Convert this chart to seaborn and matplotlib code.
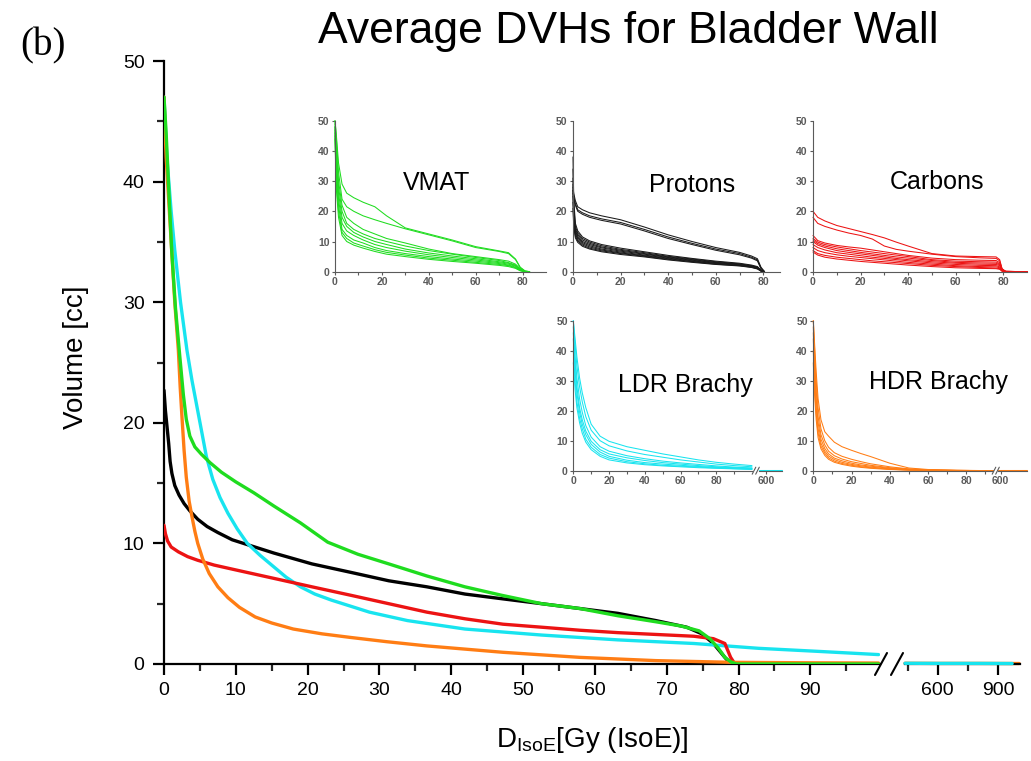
import numpy as np
import pandas as pd
import matplotlib
matplotlib.use("Agg")
import matplotlib.pyplot as plt
from matplotlib.lines import Line2D
from matplotlib.ticker import MultipleLocator, FixedLocator
import seaborn as sns

# ---------------- mean DVH curves (dose in Gy(IsoE), volume in cc) ----------------
vmat_dose = [0, 0.3, 0.65, 1.07, 1.6, 2.2, 2.7, 3.1, 3.6, 4.3, 5.2, 6.4, 8.0, 10, 12.5,
             15.3, 19, 22.8, 27, 31.3, 36.6, 41.9, 47, 52.6, 57.9, 63.2, 68.5, 72, 74.5,
             76.0, 77.2, 78.1, 79.0, 79.7, 82, 99.5]
vmat_vol = [47, 44, 39.5, 34.3, 29.5, 25.5, 22.3, 20.3, 18.9, 18.0, 17.4, 16.7, 15.9, 15.1,
            14.2, 13.1, 11.7, 10.1, 9.1, 8.3, 7.3, 6.4, 5.7, 5.0, 4.6, 4.0, 3.5, 3.15, 2.75,
            2.1, 1.3, 0.55, 0.15, 0, 0, 0]

proton_dose = [0, 0.2, 0.45, 0.65, 0.85, 1.1, 1.5, 2.1, 2.8, 3.6, 4.7, 6.0, 7.5, 9.5, 11.6,
               15.3, 20.6, 26, 31.3, 36.6, 41.9, 47.2, 52.6, 57.9, 63.2, 68.5, 72.8, 74.9,
               76.5, 78.1, 78.9, 82, 99.5]
proton_vol = [22.7, 21, 19.5, 18.3, 16.8, 15.8, 14.8, 14.0, 13.3, 12.7, 12.0, 11.4, 10.9,
              10.3, 9.9, 9.2, 8.3, 7.6, 6.9, 6.4, 5.8, 5.4, 5.0, 4.6, 4.2, 3.6, 3.05, 2.5,
              1.7, 0.55, 0, 0, 0]

carbon_dose = [0, 0.2, 0.5, 1.0, 2.0, 3.3, 4.7, 7, 10, 15.3, 20.6, 26, 31.3, 36.6, 41.9,
               47.2, 52.6, 57.9, 63.2, 68.5, 73.8, 76.5, 78.1, 78.9, 79.5, 82, 99.5]
carbon_vol = [11.5, 10.8, 10.2, 9.7, 9.3, 8.9, 8.6, 8.2, 7.8, 7.1, 6.4, 5.7, 5.0, 4.3, 3.75,
              3.3, 3.05, 2.8, 2.6, 2.45, 2.3, 2.1, 1.7, 0.55, 0, 0, 0]

ldr_dose = [0, 0.4, 1.0, 1.5, 2.3, 3.2, 3.9, 4.6, 5.3, 5.9, 6.8, 7.8, 8.9, 10.2, 11.6, 13.4,
            15.3, 17, 19, 21, 23.3, 28.6, 33.9, 41.9, 52.6, 63.2, 73.8, 82.8, 91, 99.5]
ldr_vol = [47, 42, 37.5, 34.3, 30, 26, 23.5, 21.3, 19.1, 17.2, 15.3, 13.8, 12.5, 11.2, 10.0,
           9.0, 8.05, 7.2, 6.4, 5.8, 5.3, 4.3, 3.6, 2.9, 2.4, 2.0, 1.7, 1.3, 1.05, 0.78]
ldr_tail_dose = [437, 600, 800, 970]
ldr_tail_vol = [0.06, 0.05, 0.05, 0.04]

hdr_dose = [0, 0.3, 0.7, 1.07, 1.5, 2.0, 2.25, 2.5, 2.8, 3.1, 3.5, 3.9, 4.3, 4.7, 5.4, 6.3,
            7.5, 8.9, 10.5, 12.7, 15, 18, 22, 26, 31, 36.6, 47.2, 57.9, 68.5, 79, 90, 99.5]
hdr_vol = [47, 42, 38, 34.3, 30, 26, 23, 20.5, 17.7, 15.5, 13.5, 12.2, 11.0, 10.0, 8.7, 7.5,
           6.4, 5.5, 4.7, 3.9, 3.4, 2.9, 2.5, 2.2, 1.85, 1.5, 0.97, 0.55, 0.28, 0.14, 0.1,
           0.08]
hdr_tail_dose = [437, 600, 800, 1005]
hdr_tail_vol = [0.06, 0.05, 0.05, 0.04]

# ---------------- individual patient DVHs ----------------
vmat_pt_dose = [0, 0.5, 1.5, 3, 5, 8, 12, 17, 22, 30, 40, 50, 60, 70, 74, 77, 79, 81, 83]
vmat_pt_vols = [
    [50, 46, 36, 29, 26, 24.5, 23, 21.5, 18.5, 14.5, 12.5, 10.5, 8.3, 6.9, 6.3, 4.2, 1.5, 0.3, 0],
    [50, 45, 33, 24, 21.5, 20, 18.5, 17.2, 16, 14.2, 12.2, 10.2, 8.0, 6.7, 6.0, 4.0, 1.3, 0.2, 0],
    [49, 42, 30, 22, 18, 16, 14, 12.5, 11, 9.5, 7.5, 6, 5, 4, 3.5, 2.5, 1, 0.1, 0],
    [48, 40, 28, 20, 16, 14, 12.5, 11, 10, 8.5, 7, 5.8, 4.7, 3.7, 3, 2.2, 0.8, 0, 0],
    [48, 38, 26, 18, 15, 13, 11.5, 10, 9, 7.5, 6.2, 5.2, 4.3, 3.3, 2.8, 2, 0.7, 0, 0],
    [47, 36, 24, 16, 13.5, 12, 10.5, 9, 8, 6.8, 5.6, 4.7, 3.9, 3, 2.5, 1.8, 0.6, 0, 0],
    [46, 33, 22, 14, 12, 10.5, 9.5, 8, 7, 6, 5, 4.2, 3.5, 2.7, 2.2, 1.5, 0.5, 0, 0],
    [45, 30, 20, 13, 11, 9.5, 8.5, 7.3, 6.4, 5.5, 4.5, 3.8, 3.1, 2.4, 2, 1.3, 0.4, 0, 0],
    [44, 28, 18, 12, 10, 8.8, 7.8, 6.7, 5.8, 5, 4.1, 3.4, 2.8, 2.1, 1.7, 1.1, 0.3, 0, 0],
]

proton_pt_dose = [0, 0.3, 1, 2, 4, 7, 12, 20, 30, 40, 50, 60, 70, 75, 77.5, 79, 80.5]
proton_pt_vols = [
    [28, 26, 23.5, 21.5, 20.5, 19.5, 18.5, 17.2, 14.8, 12.2, 10, 8.0, 6.4, 5.2, 4.3, 1.5, 0],
    [27, 25, 22.5, 20.5, 19.5, 18.5, 17.5, 16.3, 14.0, 11.5, 9.4, 7.5, 6.0, 4.8, 3.9, 1.2, 0],
    [26, 24, 22, 20, 19, 18, 17.0, 15.8, 13.5, 11.0, 9.0, 7.1, 5.6, 4.5, 3.6, 1.0, 0],
    [38, 24, 16, 13.5, 11.5, 10.2, 9.0, 7.8, 6.6, 5.4, 4.4, 3.5, 2.8, 2.2, 1.7, 0.5, 0],
    [34, 22, 15, 12.8, 11.0, 9.8, 8.6, 7.4, 6.3, 5.1, 4.2, 3.3, 2.6, 2.0, 1.5, 0.4, 0],
    [31, 20, 14.2, 12.2, 10.5, 9.4, 8.2, 7.1, 6.0, 4.9, 4.0, 3.1, 2.5, 1.9, 1.4, 0.4, 0],
    [29, 19, 13.6, 11.7, 10.0, 9.0, 7.9, 6.8, 5.8, 4.7, 3.8, 3.0, 2.4, 1.8, 1.3, 0.3, 0],
    [27, 18, 13.0, 11.2, 9.6, 8.6, 7.5, 6.5, 5.5, 4.5, 3.6, 2.8, 2.3, 1.7, 1.2, 0.3, 0],
    [25, 17, 12.4, 10.7, 9.2, 8.2, 7.2, 6.2, 5.3, 4.3, 3.4, 2.7, 2.1, 1.6, 1.1, 0.3, 0],
    [23, 16, 11.8, 10.2, 8.8, 7.8, 6.9, 6.0, 5.1, 4.1, 3.3, 2.5, 2.0, 1.5, 1.0, 0.2, 0],
    [21, 15, 11.2, 9.7, 8.4, 7.5, 6.6, 5.7, 4.9, 3.9, 3.1, 2.4, 1.9, 1.4, 0.9, 0.2, 0],
]

carbon_pt_dose = [0, 2, 5, 10, 15, 20, 25, 30, 35, 40, 50, 60, 70, 77, 78.5, 79.5, 81, 90]
carbon_pt_vols = [
    [20, 18, 16.8, 15.3, 14.3, 13.3, 12.3, 11.2, 9.8, 8.5, 6.0, 5.2, 5.0, 4.9, 4.0, 1.0, 0.1, 0],
    [18, 16, 15, 13.8, 12.8, 12.0, 10.8, 8.5, 7.4, 6.8, 5.8, 5.0, 4.6, 4.4, 3.6, 0.9, 0.1, 0],
    [12, 10.3, 9.5, 8.7, 8.2, 7.8, 7.2, 6.6, 6.0, 5.4, 4.5, 4.0, 3.8, 3.7, 3.0, 0.8, 0.1, 0],
    [11, 9.8, 9.0, 8.2, 7.6, 7.0, 6.5, 6.0, 5.5, 5.0, 4.0, 3.5, 3.3, 3.2, 2.6, 0.7, 0.1, 0],
    [10.5, 9.3, 8.5, 7.6, 7.0, 6.4, 5.9, 5.4, 4.9, 4.5, 3.7, 3.1, 2.9, 2.8, 2.3, 0.6, 0.1, 0],
    [10, 8.8, 8.0, 7.0, 6.4, 5.9, 5.4, 4.9, 4.4, 4.0, 3.3, 2.8, 2.5, 2.4, 2.0, 0.5, 0, 0],
    [9, 8.0, 7.2, 6.3, 5.8, 5.3, 4.8, 4.4, 4.0, 3.6, 2.9, 2.4, 2.1, 2.0, 1.6, 0.4, 0, 0],
    [8, 7.0, 6.3, 5.6, 5.1, 4.7, 4.3, 3.9, 3.5, 3.1, 2.5, 2.0, 1.7, 1.6, 1.3, 0.3, 0, 0],
    [7, 6.0, 5.4, 4.8, 4.4, 4.0, 3.6, 3.3, 3.0, 2.7, 2.1, 1.7, 1.4, 1.2, 1.0, 0.2, 0, 0],
    [6.5, 5.5, 4.8, 4.2, 3.8, 3.4, 3.1, 2.8, 2.5, 2.2, 1.7, 1.3, 1.1, 1.0, 0.8, 0.2, 0, 0],
]

ldr_pt_dose = [0, 1, 2, 3.5, 5, 7, 10, 15, 20, 30, 40, 50, 60, 70, 80, 90, 100]
ldr_pt_vols = [
    [50, 44, 38, 31, 26, 21, 15.5, 11.5, 9.8, 8.0, 6.8, 5.6, 4.6, 3.6, 2.8, 2.2, 1.7],
    [50, 42, 35, 28, 23, 18, 13.5, 10.0, 8.3, 6.6, 5.4, 4.5, 3.6, 2.9, 2.2, 1.7, 1.3],
    [48, 38, 31, 24, 19.5, 15, 11.2, 8.0, 6.5, 5.0, 4.0, 3.2, 2.6, 2.1, 1.6, 1.2, 0.9],
    [46, 36, 28, 21, 17, 13.2, 9.8, 7.0, 5.6, 4.3, 3.4, 2.7, 2.2, 1.7, 1.3, 1.0, 0.8],
    [44, 33, 26, 19.5, 15.5, 12, 8.8, 6.2, 4.8, 3.5, 2.7, 2.2, 1.8, 1.4, 1.1, 0.9, 0.7],
    [40, 30, 23, 17.5, 14, 10.5, 7.8, 5.4, 4.2, 3.0, 2.3, 1.8, 1.5, 1.2, 0.9, 0.7, 0.5],
    [36, 27, 21, 16, 12.5, 9.5, 7.0, 4.8, 3.6, 2.6, 2.0, 1.6, 1.3, 1.0, 0.8, 0.6, 0.4],
]
ldr_pt_tail_dose = [575, 600, 660]
ldr_pt_tail_vol = [0.2, 0.2, 0.2]

hdr_pt_dose = [0, 0.7, 1.5, 2.5, 4, 6, 8, 11, 15, 20, 25, 30, 40, 50, 60, 75, 94]
hdr_pt_vols = [
    [50, 42, 33, 24, 17, 13, 11.5, 9.5, 8.0, 6.8, 5.7, 4.7, 2.5, 0.9, 0.4, 0.15, 0],
    [50, 40, 30, 21, 14, 10, 7.8, 6.0, 4.8, 3.8, 3.0, 2.3, 1.3, 0.6, 0.3, 0.1, 0],
    [48, 37, 27, 18, 12, 8.6, 6.5, 5.0, 3.9, 3.0, 2.4, 1.8, 1.0, 0.5, 0.2, 0.1, 0],
    [46, 34, 24, 16, 10.5, 7.4, 5.6, 4.2, 3.3, 2.5, 1.9, 1.5, 0.8, 0.4, 0.2, 0.05, 0],
    [44, 31, 21, 14, 9.2, 6.5, 4.9, 3.7, 2.8, 2.1, 1.6, 1.2, 0.6, 0.3, 0.1, 0, 0],
    [40, 28, 19, 12.5, 8.2, 5.8, 4.3, 3.2, 2.4, 1.8, 1.3, 1.0, 0.5, 0.2, 0.1, 0, 0],
    [36, 25, 17, 11, 7.3, 5.1, 3.8, 2.8, 2.1, 1.5, 1.1, 0.8, 0.4, 0.15, 0.05, 0, 0],
]
hdr_pt_tail_dose = [590, 600, 700]
hdr_pt_tail_vol = [0.2, 0.2, 0.2]

# ---------------- styling ----------------
C_VMAT, C_PROT, C_CARB, C_LDR, C_HDR = "#1fdc1f", "#000000", "#ec1313", "#18e4ef", "#ff7d14"

sns.set_style("ticks")
plt.rcParams["font.family"] = ["Liberation Sans", "DejaVu Sans"]
plt.rcParams["text.color"] = "black"
plt.rcParams["mathtext.fontset"] = "custom"
plt.rcParams["mathtext.rm"] = "Liberation Sans"
plt.rcParams["mathtext.it"] = "Liberation Sans:italic"

W, H = 1031, 761
fig = plt.figure(figsize=(W / 100, H / 100), dpi=100)


def box(x0, ytop, x1, ybot):
    return [x0 / W, 1 - ybot / H, (x1 - x0) / W, (ybot - ytop) / H]


def slashes(xs, yc, dx, dy, lw, color):
    for x in xs:
        fig.add_artist(Line2D([(x - dx) / W, (x + dx) / W],
                              [1 - (yc + dy) / H, 1 - (yc - dy) / H],
                              transform=fig.transFigure, color=color, lw=lw))


def long_frame(dose, vols):
    rows = []
    for i, v in enumerate(vols):
        for d, y in zip(dose, v):
            rows.append((i, d, y))
    return pd.DataFrame(rows, columns=["patient", "dose", "vol"])


# ---------------- main panel ----------------
ax = fig.add_axes(box(164, 61, 880, 664))
axr = fig.add_axes(box(905, 61, 1020, 664))

lw_main = 2.4
for dose, vol, col, z in [(proton_dose, proton_vol, C_PROT, 1),
                          (ldr_dose, ldr_vol, C_LDR, 2),
                          (carbon_dose, carbon_vol, C_CARB, 3),
                          (hdr_dose, hdr_vol, C_HDR, 4),
                          (vmat_dose, vmat_vol, C_VMAT, 5)]:
    sns.lineplot(x=dose, y=vol, ax=ax, color=col, lw=lw_main, sort=False,
                 estimator=None, zorder=z)
sns.lineplot(x=hdr_tail_dose, y=hdr_tail_vol, ax=axr, color=C_HDR, lw=lw_main,
             sort=False, estimator=None, zorder=2, clip_on=False)
sns.lineplot(x=ldr_tail_dose, y=ldr_tail_vol, ax=axr, color=C_LDR, lw=lw_main,
             sort=False, estimator=None, zorder=3, clip_on=False)

ax.set_xlim(0, 99.7)
ax.set_ylim(0, 50)
axr.set_xlim(437, 1009)
axr.set_ylim(0, 50)

for a in (ax, axr):
    a.patch.set_alpha(0)
    a.set_xlabel("")
    a.set_ylabel("")
    for s in a.spines.values():
        s.set_linewidth(1.6)
        s.set_color("black")
    a.tick_params(which="major", direction="out", length=8, width=1.6,
                  labelsize=14, pad=5, colors="black")
    a.tick_params(which="minor", direction="out", length=5, width=1.6)
    a.spines["top"].set_visible(False)
    a.spines["right"].set_visible(False)

ax.xaxis.set_major_locator(MultipleLocator(10))
ax.xaxis.set_minor_locator(MultipleLocator(5))
ax.yaxis.set_major_locator(MultipleLocator(10))
ax.yaxis.set_minor_locator(MultipleLocator(5))
ax.tick_params(axis="y", pad=6)

axr.spines["left"].set_visible(False)
axr.tick_params(axis="y", which="both", left=False, labelleft=False)
axr.xaxis.set_major_locator(FixedLocator([600, 900]))
axr.xaxis.set_minor_locator(FixedLocator([450, 750]))

slashes([881, 897], 664, 6, 11, 1.5, "black")

fig.text(592 / W, 1 - 747 / H, r"$\mathrm{D_{IsoE}}$[Gy (IsoE)]", ha="center",
         va="baseline", fontsize=20, color="black")
fig.text(76 / W, 1 - 357 / H, "Volume [cc]", rotation=90, ha="center",
         va="center", fontsize=20, color="black")
fig.text(628 / W, 1 - 43 / H, "Average DVHs for Bladder Wall", ha="center",
         va="baseline", fontsize=32, color="black")
fig.text(20 / W, 1 - 55 / H, "(b)", ha="left", va="baseline", fontsize=28,
         family=["Liberation Serif", "DejaVu Serif"], color="black")

# ---------------- insets ----------------
INSET_GRAY = "#5a5a5a"


def style_inset(a, xlim, major, minor, show_y=True):
    a.set_xlim(*xlim)
    a.set_ylim(0, 50)
    a.patch.set_alpha(0)
    a.set_xlabel("")
    a.set_ylabel("")
    for s in ("top", "right"):
        a.spines[s].set_visible(False)
    for s in ("left", "bottom"):
        a.spines[s].set_color(INSET_GRAY)
        a.spines[s].set_linewidth(0.8)
    a.xaxis.set_major_locator(FixedLocator(major))
    a.xaxis.set_minor_locator(FixedLocator(minor))
    a.yaxis.set_major_locator(FixedLocator([0, 10, 20, 30, 40, 50]))
    a.tick_params(which="major", direction="out", length=2.5, width=0.8,
                  labelsize=7.5, colors=INSET_GRAY, pad=1.5)
    a.tick_params(which="minor", direction="out", length=1.8, width=0.8,
                  colors=INSET_GRAY)
    if not show_y:
        a.spines["left"].set_visible(False)
        a.tick_params(axis="y", which="both", left=False, labelleft=False)
    for lbl in a.get_xticklabels() + a.get_yticklabels():
        lbl.set_fontweight("bold")


def draw_inset(rect, dose, vols, color, xmax, major, minor, title, title_xy):
    a = fig.add_axes(box(*rect))
    df = long_frame(dose, vols)
    sns.lineplot(data=df, x="dose", y="vol", units="patient", estimator=None,
                 color=color, lw=0.75, ax=a, legend=False, sort=False,
                 clip_on=False)
    style_inset(a, (0, xmax), major, minor)
    fig.text(title_xy[0] / W, 1 - title_xy[1] / H, title, ha="center",
             va="center", fontsize=18, color="black")
    return a


draw_inset((335, 120.7, 546, 271.7), vmat_pt_dose, vmat_pt_vols, C_VMAT, 90,
           [0, 20, 40, 60, 80], [10, 30, 50, 70], "VMAT", (437, 183))
draw_inset((573, 120.7, 780, 271.7), proton_pt_dose, proton_pt_vols, "#1a1a1a", 87,
           [0, 20, 40, 60, 80], [10, 30, 50, 70], "Protons", (692, 185))
draw_inset((813, 120.7, 1027, 271.7), carbon_pt_dose, carbon_pt_vols, C_CARB, 90,
           [0, 20, 40, 60, 80], [10, 30, 50, 70], "Carbons", (937, 182))
draw_inset((573.3, 320.7, 752, 470.7), ldr_pt_dose, ldr_pt_vols, C_LDR, 100,
           [0, 20, 40, 60, 80], [10, 30, 50, 70, 90], "LDR Brachy", (685, 385))
draw_inset((813.3, 320.7, 993, 470.7), hdr_pt_dose, hdr_pt_vols, C_HDR, 94,
           [0, 20, 40, 60, 80], [10, 30, 50, 70, 90], "HDR Brachy", (938, 382))

# right-hand segments of the broken brachytherapy axes
for rect, tdose, tvol, col, lim in [((759, 320.7, 782, 470.7), ldr_pt_tail_dose,
                                     ldr_pt_tail_vol, C_LDR, (575, 660)),
                                    ((998, 320.7, 1027, 470.7), hdr_pt_tail_dose,
                                     hdr_pt_tail_vol, C_HDR, (590, 700))]:
    a = fig.add_axes(box(*rect))
    sns.lineplot(x=tdose, y=tvol, ax=a, color=col, lw=0.75, sort=False,
                 estimator=None, clip_on=False)
    style_inset(a, lim, [600], [], show_y=False)

slashes([754, 757.5], 470.7, 1.8, 3.5, 0.8, INSET_GRAY)
slashes([994, 997.5], 470.7, 1.8, 3.5, 0.8, INSET_GRAY)

fig.savefig("out.png", dpi=100)
